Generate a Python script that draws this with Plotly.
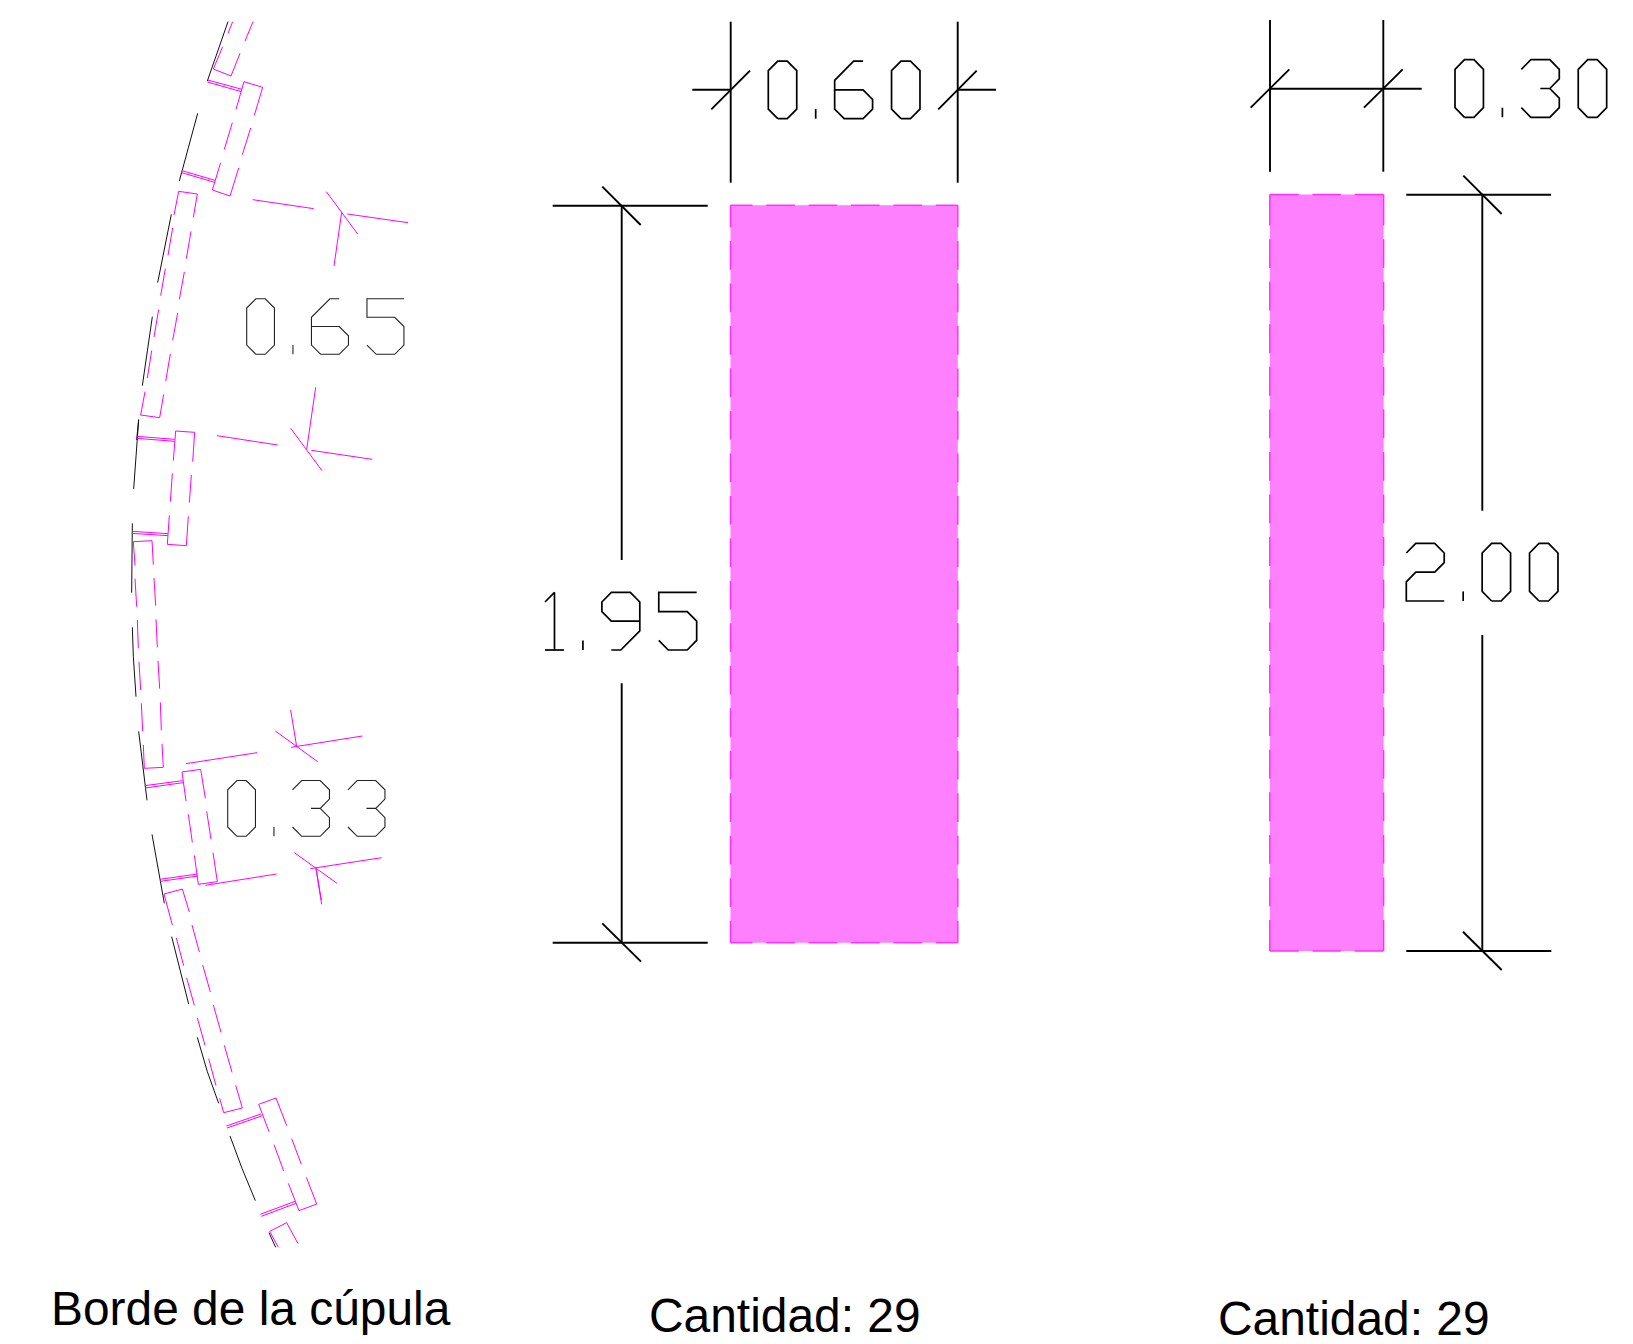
import plotly.graph_objects as go

# ---- Drawing data. Coordinates are drawing pixels / 3x crop units ----
CROP_A = (100, 0)
CROP_B = (100, 420)
CROP_C = (100, 880)

arc_a = [
    [(384, 65), (322, 243)], [(293, 340), (238, 543)], [(214, 643), (173, 848)],
    [(157, 950), (127, 1157)], [(116, 1258), (110, 1320)],
]
arc_b = [
    [(116, 0), (101, 207)], [(97, 310), (95, 518)], [(97, 622), (100, 710), (108, 830)],
    [(116, 934), (141, 1141)], [(156, 1243), (180, 1378), (193, 1450)],
]
arc_c = [
    [(215, 170), (238, 262), (266, 372)], [(292, 472), (322, 575), (356, 670)],
    [(390, 768), (426, 865), (466, 962)], [(507, 1058), (527, 1102)],
]

panels_a = [
    [(398, 65), (384, 100)], [(368, 140), (340, 207), (393, 228), (420, 160)], [(435, 123), (459, 65)],
    [(323, 240), (426, 268)], [(322, 246), (424, 275)],
    [(408, 328), (432, 245), (488, 262), (463, 346)], [(397, 368), (373, 448)], [(452, 384), (427, 464)],
    [(362, 488), (337, 570), (390, 588), (416, 504)],
    [(246, 512), (345, 541)], [(245, 518), (344, 547)],
    [(222, 645), (236, 574), (292, 582), (280, 652)], [(218, 683), (204, 766)], [(273, 694), (259, 776)],
    [(196, 806), (182, 887)], [(253, 816), (238, 898)], [(176, 929), (162, 1011)], [(233, 939), (218, 1021)],
    [(155, 1052), (142, 1134)], [(211, 1062), (197, 1144)], [(135, 1175), (122, 1245), (179, 1253), (191, 1183)],
]
panels_b = [
    [(110, 49), (224, 58)], [(110, 55), (224, 64)],
    [(220, 122), (227, 33), (284, 37), (278, 125)], [(217, 160), (211, 245)], [(274, 165), (268, 248)],
    [(208, 286), (202, 373), (259, 377), (265, 289)],
    [(96, 334), (204, 341)], [(95, 340), (204, 347)],
    [(105, 437), (100, 365), (156, 362), (160, 434)], [(105, 476), (110, 560)], [(162, 474), (167, 557)],
    [(112, 600), (115, 685)], [(168, 598), (172, 682)], [(117, 726), (122, 810)], [(174, 723), (179, 806)],
    [(124, 850), (128, 934)], [(181, 847), (184, 931)], [(130, 975), (133, 1045), (190, 1042), (186, 972)],
    [(134, 1097), (248, 1082)], [(135, 1104), (249, 1088)],
    [(258, 1143), (246, 1056), (302, 1048), (316, 1135)], [(265, 1183), (277, 1267)], [(320, 1174), (333, 1258)],
    [(283, 1306), (295, 1393), (352, 1385), (339, 1298)],
    [(180, 1378), (293, 1362)], [(181, 1384), (294, 1368)],
]
panels_c = [
    [(217, 135), (192, 42), (247, 27), (268, 96)], [(229, 174), (251, 257)], [(276, 135), (298, 216)],
    [(260, 294), (283, 376)], [(308, 255), (331, 336)], [(292, 414), (315, 496)], [(340, 375), (363, 457)],
    [(326, 536), (348, 617)], [(373, 496), (396, 577)], [(359, 655), (371, 698), (427, 684), (407, 616)],
    [(379, 738), (483, 702)], [(381, 744), (485, 708)],
    [(507, 755), (476, 673), (528, 654), (560, 737)], [(522, 794), (551, 873)], [(575, 776), (604, 853)],
    [(565, 910), (597, 992), (650, 972), (619, 892)],
    [(481, 1003), (585, 964)], [(484, 1009), (588, 970)],
    [(535, 1102), (509, 1054), (560, 1028), (594, 1091)],
]
dims_a = [
    [(458, 599), (641, 626)], [(742, 642), (924, 668)], [(725, 637), (702, 798)], [(679, 575), (773, 702)],
    [(647, 1162), (620, 1348)],
]
dims_b = [
    [(351, 47), (533, 75)], [(634, 91), (817, 118)], [(572, 25), (666, 152)],
    [(258, 1031), (471, 998)], [(573, 982), (787, 948)], [(572, 870), (590, 980)], [(526, 933), (653, 1025)],
    [(316, 1396), (530, 1362)], [(631, 1346), (845, 1313)], [(648, 1345), (664, 1440)], [(583, 1298), (711, 1390)],
]
dims_c = [[(648, -35), (665, 73)]]

black_dims = [
    [(730.7, 21.7), (730.7, 182.7)], [(957.7, 21.7), (957.7, 182.7)],
    [(692.3, 89.7), (730.7, 89.7)], [(957.7, 89.7), (996, 89.7)],
    [(711.3, 109.3), (750, 70.7)], [(938.3, 109.3), (976.7, 70.7)],
    [(1270, 20), (1270, 171.7)], [(1383.3, 20), (1383.3, 171.7)],
    [(1270, 88.7), (1421.7, 88.7)],
    [(1250.7, 107.7), (1289.3, 69.3)], [(1364, 107.7), (1402.7, 69.3)],
    [(552.7, 205.7), (707.7, 205.7)], [(621.7, 205.7), (621.7, 560)], [(621.7, 683.3), (621.7, 942.7)],
    [(602.3, 186.7), (640.7, 225)], [(552.7, 942.7), (707.7, 942.7)], [(602.3, 923.3), (641, 961.7)],
    [(1406.3, 194.7), (1551, 194.7)], [(1482.3, 194.7), (1482.3, 510.7)], [(1482.3, 635), (1482.3, 951)],
    [(1463.3, 175.7), (1501.7, 214)], [(1406.3, 951), (1551.3, 951)], [(1463, 931.7), (1501.7, 970)],
]

# element rectangles: left, top, right, bottom, first dash across, first dash along
piece_wide = (730.5, 205.3, 957.8, 942.7, 22, 22)
piece_narrow = (1269.8, 194.5, 1383.6, 951, 29, 31)

# CAD stroke-font glyphs, units on a 6-high grid, with advance
GLYPHS = {
    "0": (5, [[(1, 0), (2, 0), (3, 1), (3, 5), (2, 6), (1, 6), (0, 5), (0, 1), (1, 0)]]),
    ".": (2, [[(0, 0), (0, 1)]]),
    "1": (4, [[(0, 5), (1, 6), (1, 0)], [(0, 0), (2, 0)]]),
    "2": (6, [[(0, 5), (1, 6), (3, 6), (4, 5), (4, 4), (3, 3), (1, 3), (0, 2), (0, 0), (4, 0)]]),
    "3": (6, [[(0, 5), (1, 6), (3, 6), (4, 5), (4, 4), (3, 3), (2, 3)], [(3, 3), (4, 2), (4, 1), (3, 0), (1, 0), (0, 1)]]),
    "5": (6, [[(0, 1), (1, 0), (3, 0), (4, 1), (4, 3), (3, 4), (0, 4), (0, 6), (4, 6)]]),
    "6": (6, [[(3, 6), (2, 6), (0, 4), (0, 1), (1, 0), (3, 0), (4, 1), (4, 2), (3, 3), (0, 3)]]),
    "9": (6, [[(1, 0), (2, 0), (4, 2), (4, 5), (3, 6), (1, 6), (0, 5), (0, 4), (1, 3), (4, 3)]]),
}
# label, x start, baseline, unit across, unit up
labels_main = [("0.60", 768.3, 118.7, 9.48, 9.6), ("0.30", 1455, 117.3, 9.48, 9.6),
               ("1.95", 545, 650, 9.48, 9.6), ("2.00", 1406.3, 601, 9.48, 9.6)]
labels_edge = [("0.65", 246.7, 354.3, 9.25, 9.25), ("0.33", 227.7, 836.3, 9.25, 9.3)]

captions = [("Borde de la cúpula", 50, 1325), ("Cantidad: 29", 648, 1331.7), ("Cantidad: 29", 1216.5, 1334.5)]
CAPTION_SIZE = 47.9
CAPTION_BOX_SHIFT = 11

MAGENTA = "#FF00FF"
FILL = "#FF80FF"
DASH_PERIOD = 42.7
DASH_GAP = 13.7


def flatten(groups, origin=(0, 0), scale=1.0):
    xs, ys = [], []
    for g in groups:
        for x, y in g:
            xs.append(origin[0] + x * scale)
            ys.append(origin[1] + y * scale)
        xs.append(None)
        ys.append(None)
    return xs, ys


def join(*parts):
    xs, ys = [], []
    for a, b in parts:
        xs += a
        ys += b
    return xs, ys


def text_strokes(labels):
    out = [], []
    for s, x0, base, ux, uy in labels:
        cx = x0
        for ch in s:
            adv, strokes = GLYPHS[ch]
            for st in strokes:
                for gx, gy in st:
                    out[0].append(cx + gx * ux)
                    out[1].append(base - gy * uy)
                out[0].append(None)
                out[1].append(None)
            cx += adv * ux
    return out


def dashed_edge(p0, p1, first):
    """Symmetric CAD dash run along one edge, first/last dash of the given length."""
    length = ((p1[0] - p0[0]) ** 2 + (p1[1] - p0[1]) ** 2) ** 0.5
    n = round((length - 2 * first - DASH_GAP) / DASH_PERIOD)
    period = (length - 2 * first - DASH_GAP) / n
    dash = period - DASH_GAP
    ux, uy = (p1[0] - p0[0]) / length, (p1[1] - p0[1]) / length
    spans = [(0, first)]
    pos = first + DASH_GAP
    for _ in range(n):
        spans.append((pos, pos + dash))
        pos += period
    spans.append((length - first, length))
    xs, ys = [], []
    for a, b in spans:
        xs += [p0[0] + ux * a, p0[0] + ux * b, None]
        ys += [p0[1] + uy * a, p0[1] + uy * b, None]
    return xs, ys


def piece_edges(p):
    l, t, r, b, fa, fl = p
    return join(
        dashed_edge((l, t), (r, t), fa), dashed_edge((l, b), (r, b), fa),
        dashed_edge((l, t), (l, b), fl), dashed_edge((r, t), (r, b), fl),
    )


def line(xy, color, width):
    return go.Scatter(x=xy[0], y=xy[1], mode="lines", line=dict(color=color, width=width),
                      hoverinfo="skip", showlegend=False, connectgaps=False)


fig = go.Figure()

for p in (piece_wide, piece_narrow):
    l, t, r, b = p[:4]
    fig.add_trace(go.Scatter(x=[l, r, r, l, l], y=[t, t, b, b, t], mode="none", fill="toself",
                             fillcolor=FILL, hoverinfo="skip", showlegend=False))
    fig.add_trace(line(piece_edges(p), "#FF30FF", 1.5))

S = 1 / 3
fig.add_trace(line(join(flatten(arc_a, CROP_A, S), flatten(arc_b, CROP_B, S), flatten(arc_c, CROP_C, S)), "#111111", 1))
fig.add_trace(line(join(flatten(panels_a, CROP_A, S), flatten(panels_b, CROP_B, S), flatten(panels_c, CROP_C, S)), MAGENTA, 1))
fig.add_trace(line(join(flatten(dims_a, CROP_A, S), flatten(dims_b, CROP_B, S), flatten(dims_c, CROP_C, S)), MAGENTA, 1))
fig.add_trace(line(flatten(black_dims), "#000000", 1.9))
fig.add_trace(line(text_strokes(labels_main), "#000000", 1.7))
fig.add_trace(line(text_strokes(labels_edge), "#222222", 1.1))

for s, x, base in captions:
    fig.add_annotation(x=x, y=base, yshift=-CAPTION_BOX_SHIFT, xref="x", yref="y", text=s, showarrow=False,
                       xanchor="left", yanchor="bottom", borderpad=0,
                       font=dict(family="Liberation Sans", size=CAPTION_SIZE, color="#000000"))

fig.update_layout(
    width=1633, height=1344, margin=dict(l=0, r=0, t=0, b=0),
    paper_bgcolor="#FFFFFF", plot_bgcolor="#FFFFFF", showlegend=False,
    xaxis=dict(range=[0, 1633], visible=False, fixedrange=True),
    yaxis=dict(range=[1344, 0], visible=False, fixedrange=True),
)
fig.write_html("out.html", config={"displayModeBar": False},
               post_script="document.body.style.margin='0';document.documentElement.style.overflow='hidden';")
